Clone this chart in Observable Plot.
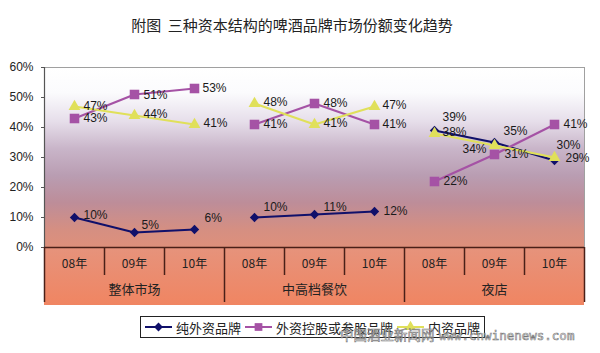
<!DOCTYPE html>
<html><head><meta charset="utf-8">
<script src="https://cdn.jsdelivr.net/npm/d3@7"></script>
<script src="https://cdn.jsdelivr.net/npm/@observablehq/plot@0.6"></script>
<style>
body{margin:0;background:#fff;width:600px;height:353px;position:relative;overflow:hidden;font-family:"Liberation Sans",Arial,"Noto Sans CJK SC",sans-serif;}
#title{position:absolute;left:0;top:15px;width:584px;text-align:center;font-size:15px;line-height:20px;color:#222;font-family:"Noto Sans CJK SC",sans-serif;white-space:pre;}
#chart{position:absolute;left:0;top:45px;}
#legend{position:absolute;left:140px;top:316px;width:343px;height:20px;border:1px solid #222;background:#fff;font-size:13px;color:#222;display:flex;align-items:center;font-family:"Noto Sans CJK SC",sans-serif;}
.item{display:flex;align-items:center;margin-left:4px;}
.item svg{margin-right:4px;}
#wm{position:absolute;left:340px;top:325px;color:rgba(255,255,255,0.55);-webkit-text-stroke:0.6px #777;white-space:pre;line-height:18px;}
#wm .cn{font-size:13.5px;font-family:"Noto Sans CJK SC",sans-serif;}
#wm .url{font-size:12.5px;font-family:"DejaVu Sans Mono",monospace;}
</style></head>
<body>
<div id="title">附图  三种资本结构的啤酒品牌市场份额变化趋势</div>
<div id="chart"></div>
<div id="legend"></div>
<div id="wm"><span class="cn">中国酒业新闻网</span> <span class="url">www.cnwinenews.com</span></div>
<script>
// ---- data ----
const groups = ["整体市场", "中高档餐饮", "夜店"];
const years = ["08年", "09年", "10年"];
const seriesNames = ["纯外资品牌", "外资控股或参股品牌", "内资品牌"];
const pureForeign = [10, 5, 6, 10, 11, 12, 39, 35, 29];
const foreignHeld = [43, 51, 53, 41, 48, 41, 22, 31, 41];
const domestic = [47, 44, 41, 48, 41, 47, 38, 34, 30];
const yTicks = [0, 10, 20, 30, 40, 50, 60];

// ---- styles (kept apart from data) ----
const colors = ["#10106a", "#a552a5", "#e0e05a"];
const symbols = ["diamond2", "square", "triangle"];
const radii = [4.2, 5.4, 4.4];
// label offsets [dx, dy, anchor]
const labelOffsets = [
  [[9,-2],[7,-7],[10,-11],[9,-10],[9,-7],[9,0],[8,-13],[9,-11],[11,-2]],
  [[9,0],[9,1],[8,0],[9,0],[9,0],[8,0],[9,0],[10,0],[9,0]],
  [[9,0],[9,-1],[9,-1],[9,-1],[9,-1],[8,-1],[8,-1],[-8,4,"end"],[2,-12]]
];

const valuesBySeries = [pureForeign, foreignHeld, domestic];
const rows = [];
seriesNames.forEach((s, si) => {
  valuesBySeries[si].forEach((v, i) => {
    rows.push({series: s, si, i, value: v, x: i + 0.5,
      line: s + "|" + groups[Math.floor(i / 3)]});
  });
});
const cats = [];
groups.forEach((g, gi) => years.forEach((y, yi) => cats.push({year: y, x: gi * 3 + yi + 0.5})));
const groupRows = groups.map((g, gi) => ({group: g, x: gi * 3 + 1.5}));
const yearSeps = [];
const groupSeps = [];
for (let k = 0; k <= 9; k++) (k % 3 === 0 ? groupSeps : yearSeps).push(k);

// label marks grouped by offset
const labelRows = rows.map(r => {
  const o = labelOffsets[r.si][r.i];
  return {...r, dx: o[0], dy: o[1], anchor: o[2] || "start"};
});
const labelMarks = Array.from(d3.group(labelRows, d => d.dx + "," + d.dy + "," + d.anchor).values()).map(arr =>
  Plot.text(arr, {x: "x", y: "value", text: d => d.value + "%", dx: arr[0].dx, dy: arr[0].dy,
    textAnchor: arr[0].anchor, fill: "#1a1a1a", fontSize: 12})
);

const font = '"Liberation Sans", Arial, "Noto Sans CJK SC", sans-serif';
const chart = Plot.plot({
  width: 600, height: 260,
  marginTop: 22, marginBottom: 58, marginLeft: 44, marginRight: 16,
  x: {domain: [0, 9], axis: null},
  y: {domain: [0, 60], axis: null},
  color: {domain: seriesNames, range: colors},
  style: {fontFamily: font, fontSize: "12px", color: "#222", background: "transparent", overflow: "visible"},
  marks: [
    Plot.frame({fill: "url(#plotBg)", stroke: "none"}),
    Plot.rect([0], {x1: 0, x2: 9, y1: 0, y2: 0, insetBottom: -58, fill: "url(#catBg)"}),
    Plot.frame({stroke: "#a0a0a0", strokeWidth: 1}),
    Plot.axisY({ticks: yTicks, tickFormat: d => d + "%", tickSize: 3, tickPadding: 8, fontSize: 12, stroke: "#555", label: null}),
    Plot.ruleX([0], {stroke: "#555", strokeWidth: 1.2}),
    Plot.ruleY([0], {stroke: "#4a2018", strokeWidth: 1.5}),
    Plot.ruleX(yearSeps, {x: d => d, y1: 0, y2: 0, insetBottom: -28, stroke: "#4a2018", strokeWidth: 1.5}),
    Plot.ruleX(groupSeps, {x: d => d, y1: 0, y2: 0, insetBottom: -55, stroke: "#4a2018", strokeWidth: 1.5}),
    Plot.text(cats, {x: "x", frameAnchor: "bottom", dy: 20, text: "year", fontSize: 12, fill: "#222", fontFamily: '"Noto Sans CJK SC", sans-serif'}),
    Plot.text(groupRows, {x: "x", frameAnchor: "bottom", dy: 46, text: "group", fontSize: 13, fill: "#222", fontFamily: '"Noto Sans CJK SC", sans-serif'}),
    Plot.line(rows, {x: "x", y: "value", z: "line", stroke: "series", strokeWidth: 2.2}),
    ...seriesNames.map((s, si) => Plot.dot(rows.filter(r => r.si === si), {
      x: "x", y: "value", symbol: () => symbols[si], r: radii[si], fill: "series", stroke: "none"})),
    ...labelMarks
  ]
});

// gradients for the backgrounds
const defs = d3.select(chart).insert("defs", ":first-child");
const g1 = defs.append("linearGradient").attr("id", "plotBg").attr("x1", 0).attr("y1", 0).attr("x2", 0).attr("y2", 1);
[[0, "#ffffff"], [0.14, "#fbfbfd"], [0.3, "#e6deea"], [0.45, "#c9b5c9"], [0.6, "#b99db2"], [0.75, "#bd8d99"], [0.9, "#d58f82"], [1, "#de907b"]]
  .forEach(([o, c]) => g1.append("stop").attr("offset", o).attr("stop-color", c));
const g2 = defs.append("linearGradient").attr("id", "catBg").attr("x1", 0).attr("y1", 0).attr("x2", 0).attr("y2", 1);
[[0, "#e6937c"], [1, "#f08562"]].forEach(([o, c]) => g2.append("stop").attr("offset", o).attr("stop-color", c));

document.getElementById("chart").appendChild(chart);

// legend
const legend = d3.select("#legend");
seriesNames.forEach((s, si) => {
  const it = legend.append("div").attr("class", "item");
  const sv = it.append("svg").attr("width", 27).attr("height", 12);
  sv.append("line").attr("x1", 0).attr("x2", 27).attr("y1", 6).attr("y2", 6).attr("stroke", colors[si]).attr("stroke-width", 2);
  sv.append("path").attr("transform", "translate(13.5,6)")
    .attr("d", d3.symbol(si === 0 ? d3.symbolDiamond2 : si === 1 ? d3.symbolSquare : d3.symbolTriangle, si === 1 ? 60 : 50)())
    .attr("fill", colors[si]);
  it.append("span").text(s);
});
</script>
</body></html>
